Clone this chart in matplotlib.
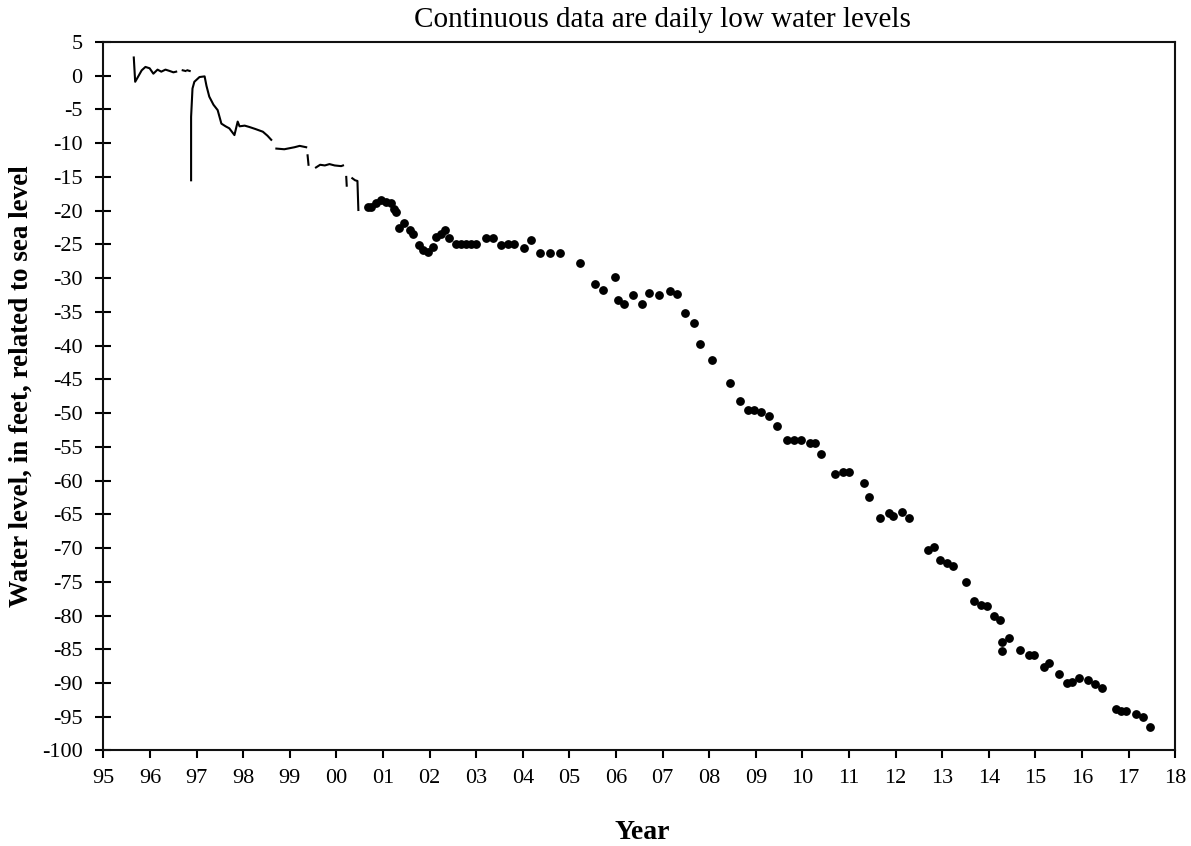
import numpy as np
import matplotlib
matplotlib.use("Agg")
import matplotlib.pyplot as plt

plt.rcParams['font.family'] = ['Liberation Serif', 'DejaVu Serif']
plt.rcParams['axes.unicode_minus'] = False

# Continuous record (daily low water levels); NaN marks a gap in the record
line_year = [1995.65, 1995.68, 1995.73, 1995.82, 1995.90, 1995.99, 1996.07, 1996.16, 1996.24,
             1996.33, 1996.42, 1996.50, 1996.56, np.nan,
             1996.70, 1996.76, np.nan,
             1996.80, 1996.85, np.nan,
             1996.88, 1996.88, 1996.91, 1996.95, 1997.06, 1997.17, 1997.21, 1997.27, 1997.36,
             1997.45, 1997.53, 1997.62, 1997.70, 1997.81, 1997.88, 1997.92, 1998.03, 1998.13,
             1998.26, 1998.42, 1998.52, 1998.60, np.nan,
             1998.71, 1998.88, 1999.10, 1999.21, 1999.35, np.nan,
             1999.38, 1999.40, np.nan,
             1999.56, 1999.65, 1999.75, 1999.85, 1999.96, 2000.10, 2000.14, np.nan,
             2000.21, 2000.22, np.nan,
             2000.34, 2000.40, 2000.45, 2000.47]
line_level = [2.7, -0.9, -0.3, 0.8, 1.3, 1.1, 0.3, 0.9, 0.6,
              0.9, 0.7, 0.5, 0.6, np.nan,
              0.8, 0.7, np.nan,
              0.8, 0.7, np.nan,
              -15.5, -6.1, -1.9, -0.9, -0.2, -0.1, -1.5, -3.1, -4.3,
              -5.1, -7.1, -7.5, -7.8, -8.8, -6.8, -7.5, -7.4, -7.6,
              -7.9, -8.3, -8.9, -9.5, np.nan,
              -10.8, -10.9, -10.6, -10.4, -10.6, np.nan,
              -11.8, -13.2, np.nan,
              -13.6, -13.2, -13.3, -13.1, -13.3, -13.4, -13.3, np.nan,
              -15.0, -16.3, np.nan,
              -15.2, -15.5, -15.6, -19.9]

# Periodic measurements
dot_year = [2000.67, 2000.74, 2000.85, 2000.96, 2001.07, 2001.17, 2001.24, 2001.28, 2001.35,
            2001.46, 2001.57, 2001.64, 2001.78, 2001.85, 2001.96, 2002.07, 2002.14, 2002.25,
            2002.32, 2002.42, 2002.57, 2002.68, 2002.78, 2002.89, 2003.00, 2003.21, 2003.35,
            2003.53, 2003.68, 2003.82, 2004.03, 2004.18, 2004.37, 2004.59, 2004.80, 2005.23,
            2005.54, 2005.71, 2005.97, 2006.04, 2006.18, 2006.36, 2006.56, 2006.70, 2006.92,
            2007.15, 2007.30, 2007.47, 2007.68, 2007.80, 2008.06, 2008.45, 2008.66, 2008.83,
            2008.97, 2009.11, 2009.28, 2009.45, 2009.68, 2009.83, 2009.97, 2010.17, 2010.28,
            2010.39, 2010.69, 2010.87, 2011.01, 2011.33, 2011.42, 2011.67, 2011.85, 2011.94,
            2012.14, 2012.28, 2012.69, 2012.83, 2012.96, 2013.10, 2013.23, 2013.51, 2013.69,
            2013.83, 2013.96, 2014.12, 2014.23, 2014.29, 2014.29, 2014.43, 2014.67, 2014.86,
            2014.96, 2015.19, 2015.29, 2015.50, 2015.67, 2015.79, 2015.93, 2016.14, 2016.29,
            2016.44, 2016.73, 2016.84, 2016.95, 2017.15, 2017.30, 2017.47]
dot_level = [-19.5, -19.4, -18.9, -18.4, -18.7, -18.8, -19.7, -20.2, -22.5,
             -21.8, -22.9, -23.4, -25.1, -25.8, -26.1, -25.4, -23.9, -23.4,
             -22.9, -24.1, -25.0, -24.9, -24.9, -24.9, -24.9, -24.1, -24.1,
             -25.1, -24.9, -24.9, -25.5, -24.4, -26.3, -26.3, -26.3, -27.8,
             -30.8, -31.7, -29.9, -33.2, -33.8, -32.5, -33.8, -32.2, -32.5,
             -31.9, -32.3, -35.2, -36.7, -39.7, -42.1, -45.6, -48.2, -49.5,
             -49.5, -49.8, -50.4, -51.9, -54.0, -54.0, -54.0, -54.5, -54.5,
             -56.0, -59.0, -58.7, -58.7, -60.4, -62.4, -65.5, -64.8, -65.3,
             -64.6, -65.5, -70.3, -69.9, -71.7, -72.2, -72.7, -75.0, -77.8,
             -78.4, -78.6, -80.1, -80.7, -83.9, -85.2, -83.3, -85.1, -85.8,
             -85.8, -87.7, -87.1, -88.7, -90.0, -89.9, -89.3, -89.6, -90.2,
             -90.8, -93.8, -94.1, -94.1, -94.6, -95.0, -96.5]

year_ticks = list(range(1995, 2019))
year_labels = ['%02d' % (y % 100) for y in year_ticks]
level_ticks = list(range(-100, 6, 5))

fig = plt.figure(figsize=(11.91, 8.46), dpi=100)
ax = fig.add_axes([0.0869, 0.1129, 0.8998, 0.8375])

ax.plot(line_year, line_level, color='black', lw=1.5)
ax.plot(dot_year, dot_level, 'o', color='black', ms=5.3, mec='black')

ax.set_xlim(1995, 2018)
ax.set_ylim(-100, 5)
ax.set_xticks(year_ticks)
ax.set_xticklabels(year_labels)
ax.set_yticks(level_ticks)
ax.tick_params(axis='x', direction='out', length=6, width=1.5, labelsize=16, pad=7)
ax.tick_params(axis='y', direction='inout', length=11, width=1.5, labelsize=16, pad=9.5)
for s in ax.spines.values():
    s.set_linewidth(1.5)
    s.set_color('#111111')

fig.text(662 / 1191, 1 - 20 / 846, 'Continuous data are daily low water levels',
         ha='center', va='center', fontsize=21)
fig.text(21 / 1191, 1 - 386 / 846, 'Water level, in feet, related to sea level',
         ha='center', va='center', rotation=90, fontsize=19.5, fontweight='bold')
fig.text(642 / 1191, 1 - 832 / 846, 'Year', ha='center', va='center',
         fontsize=20, fontweight='bold')

fig.savefig('out.png', dpi=100)
